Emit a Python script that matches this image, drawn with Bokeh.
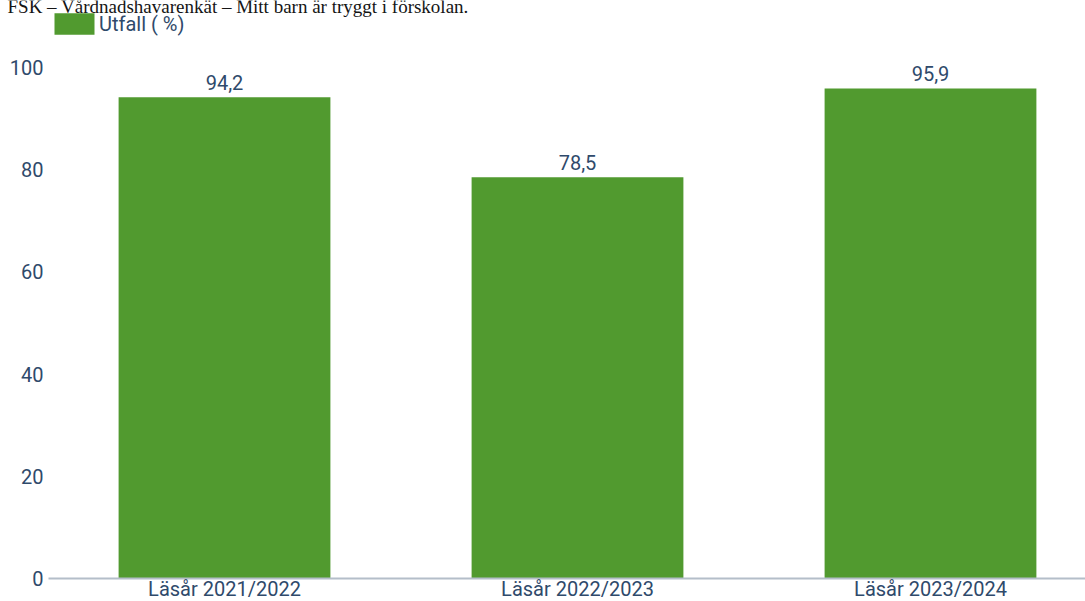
from bokeh.plotting import figure
from bokeh.models import (Range1d, FixedTicker, ColumnDataSource, Label, Legend, LegendItem)
from bokeh.embed import file_html
from bokeh.resources import INLINE

title_text = "FSK – Vårdnadshavarenkät – Mitt barn är tryggt i förskolan."
series_name = "Utfall ( %)"
categories = ["Läsår 2021/2022", "Läsår 2022/2023", "Läsår 2023/2024"]
values = [94.2, 78.5, 95.9]
y_ticks = [0, 20, 40, 60, 80, 100]

BAR = "#519A2F"
TXT = "#2f4a6b"
AXIS = "#b4bec9"
FONT = "Roboto"
FS = "20px"

X0, X1 = -0.4986, 2.4391   # visible category axis extent
xs = list(range(len(categories)))
src = ColumnDataSource(dict(
    x=xs, top=values,
    label=[f"{v:.1f}".replace(".", ",") for v in values],
))

# frame covers the whole canvas; axes are pinned inside it
p = figure(width=1085, height=601, output_backend="svg", toolbar_location=None,
           x_range=Range1d(X0 - 48 / 353, X1), y_range=Range1d(-4.50, 113.11),
           min_border_left=0, min_border_right=0, min_border_top=0, min_border_bottom=0)
p.title.text = ""
p.outline_line_color = None
p.background_fill_color = "white"
p.border_fill_color = "white"
p.xgrid.visible = False
p.ygrid.visible = False

r = p.vbar(x="x", top="top", width=0.6, source=src, fill_color=BAR, line_color=None)

p.text(x="x", y="top", text="label", source=src, text_align="center",
       text_baseline="bottom", y_offset=-7, text_color=TXT,
       text_font={"value": FONT}, text_font_size=FS)

# x axis
xa = p.xaxis[0]
xa.fixed_location = 0
xa.bounds = (X0, X1)
xa.ticker = FixedTicker(ticks=xs)
xa.major_label_overrides = {i: c for i, c in zip(xs, categories)}
xa.axis_line_color = AXIS
xa.axis_line_width = 2
xa.major_tick_line_color = None
xa.minor_tick_line_color = None
xa.major_tick_out = 0
xa.major_label_standoff = -2
xa.major_label_text_color = TXT
xa.major_label_text_font = FONT
xa.major_label_text_font_size = FS

# y axis
ya = p.yaxis[0]
ya.fixed_location = X0
ya.ticker = FixedTicker(ticks=y_ticks)
ya.axis_line_color = None
ya.major_tick_line_color = None
ya.minor_tick_line_color = None
ya.major_tick_out = 0
ya.major_label_standoff = 5
ya.major_label_text_color = TXT
ya.major_label_text_font = FONT
ya.major_label_text_font_size = FS

# title (its top is cut by the page edge, as in the reference)
p.add_layout(Label(x=X0 - 41 / 353, y=111.94, text=title_text, text_font="Liberation Serif",
                   text_font_size="19px", text_color="#151515", text_baseline="alphabetic"))

legend = Legend(items=[LegendItem(label=series_name, renderers=[r])],
                location=(49, 563.7), padding=0, margin=0, spacing=0,
                glyph_width=50, glyph_height=27, label_standoff=-1,
                border_line_alpha=0, background_fill_alpha=0,
                label_text_color=TXT, label_text_font=FONT, label_text_font_size=FS)
p.add_layout(legend)

open("out.html", "w").write(file_html(p, INLINE))
